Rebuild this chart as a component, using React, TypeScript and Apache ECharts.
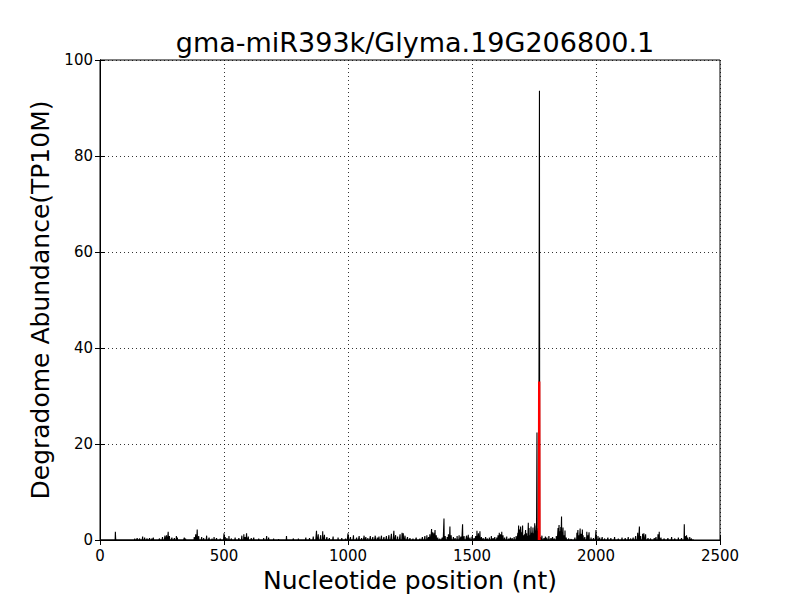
import React, { useEffect, useRef } from "react";
import * as echarts from "echarts";

const chartTitle = "gma-miR393k/Glyma.19G206800.1";
const xAxisTitle = "Nucleotide position (nt)";
const yAxisTitle = "Degradome Abundance(TP10M)";
const xTicks = [0, 500, 1000, 1500, 2000, 2500];
const yTicks = [0, 20, 40, 60, 80, 100];
const transcriptLength = 2395;

// nonzero positions of the degradome profile (black)
const readPositions = [
  62, 63, 140, 150, 160, 172, 180, 190, 200, 210, 215, 240, 252, 262, 268, 275, 280, 290, 300, 308, 312, 340, 345, 380, 386, 392, 398, 410, 418, 430, 440, 452, 460, 470, 485, 500,
  505, 512, 520, 530, 545, 560, 572, 580, 585, 591, 598, 610, 620, 640, 660, 672, 680, 700, 720, 752, 780, 800, 830, 845, 860, 873, 880, 890, 898, 905, 915, 925, 940, 960, 975, 990, 1000,
  1010, 1022, 1035, 1045, 1055, 1065, 1072, 1080, 1090, 1100, 1110, 1118, 1125, 1135, 1145, 1155, 1165, 1175, 1185, 1192, 1200, 1210, 1218, 1223, 1230, 1240, 1250, 1262, 1275, 1290, 1300,
  1310, 1318, 1325, 1330, 1337, 1342, 1347, 1351, 1356, 1362, 1370, 1380, 1387, 1392, 1400, 1405, 1411, 1416, 1425, 1432, 1440, 1448, 1455, 1462, 1468, 1478, 1485, 1492, 1500, 1508, 1515, 1520, 1526, 1532, 1538, 1545, 1555, 1562, 1570, 1578, 1585, 1592, 1600,
  1605, 1610, 1615, 1620, 1625, 1632, 1640, 1648, 1655, 1662, 1670, 1678, 1685, 1688, 1692, 1696, 1700, 1704, 1708, 1712, 1716, 1720, 1724, 1727, 1730, 1734, 1738, 1742, 1746, 1750, 1753, 1756, 1759, 1762, 1765, 1768, 1772,
  1776, 1782, 1790, 1796, 1802, 1810, 1818, 1825, 1832, 1840, 1847, 1851, 1855, 1858, 1861, 1864, 1867, 1870, 1875, 1880, 1890, 1900, 1915, 1923, 1927, 1932, 1936, 1940, 1945, 1948, 1955, 1963, 1968, 1972, 1980, 1990, 2000,
  2008, 2015, 2025, 2035, 2048, 2060, 2075, 2090, 2105, 2118, 2130, 2140, 2150, 2160, 2168, 2175, 2180, 2188, 2193, 2200, 2210, 2220, 2235, 2242, 2250, 2255, 2262, 2275, 2290, 2305, 2318, 2332, 2345, 2356, 2360, 2365, 2370, 2378, 2385,
];
const readAbundances = [
  1.7, 0.4, 0.3, 0.4, 0.3, 0.7, 0.5, 0.3, 0.4, 0.3, 0.5, 0.3, 0.6, 0.9, 1.0, 1.7, 0.8, 0.5, 0.4, 0.8, 0.5, 0.5, 0.3, 0.6, 1.2, 2.2, 0.8, 0.6, 0.4, 0.9, 0.5, 0.3, 0.6, 0.4, 0.3, 1.4,
  0.6, 0.4, 0.8, 0.3, 0.5, 0.4, 0.9, 1.2, 0.6, 1.4, 0.7, 0.4, 0.5, 0.3, 0.4, 0.8, 0.5, 0.3, 0.2, 0.8, 0.3, 0.3, 0.5, 0.4, 0.7, 1.9, 1.2, 1.0, 1.8, 1.1, 0.6, 0.4, 0.7, 0.5, 0.4, 0.3, 1.4,
  0.6, 1.0, 0.5, 0.8, 0.4, 0.9, 0.6, 0.4, 0.8, 0.6, 0.9, 0.5, 0.7, 0.9, 0.6, 0.8, 1.0, 1.3, 1.9, 1.0, 0.7, 1.2, 1.5, 1.4, 0.9, 0.6, 0.4, 0.3, 0.5, 0.3, 0.6,
  0.8, 1.0, 0.6, 1.2, 2.3, 1.6, 1.4, 2.1, 1.0, 0.5, 0.3, 0.5, 4.5, 0.8, 0.6, 1.2, 2.8, 1.0, 0.6, 0.4, 0.8, 1.0, 0.7, 3.3, 0.8, 0.9, 1.1, 0.5, 0.7, 0.4, 0.8, 1.9, 1.4, 1.8, 0.6, 0.4, 0.6, 0.3, 0.5, 0.8, 0.4, 0.6, 0.5,
  1.0, 1.5, 1.2, 1.7, 1.0, 0.5, 0.7, 0.3, 0.5, 0.4, 0.6, 0.8, 1.5, 3.0, 2.2, 2.8, 1.6, 3.0, 1.0, 1.2, 2.1, 1.4, 0.8, 3.6, 2.5, 1.0, 2.8, 1.5, 2.6, 1.4, 3.5, 2.0, 3.0, 22.4, 1.8, 2.5, 93.6,
  0.6, 0.9, 0.4, 0.7, 0.5, 0.8, 0.4, 0.6, 0.3, 0.8, 2.5, 3.1, 1.8, 2.7, 4.9, 1.5, 2.6, 1.0, 2.0, 0.5, 0.3, 0.2, 0.5, 1.5, 2.1, 1.0, 2.4, 1.3, 2.2, 1.0, 0.6, 1.7, 1.0, 1.6, 0.5, 0.4, 2.1,
  0.8, 0.5, 0.6, 0.3, 0.5, 0.4, 0.6, 0.3, 0.5, 0.4, 0.6, 0.3, 0.5, 0.8, 1.5, 2.8, 0.8, 1.3, 1.4, 1.2, 0.4, 0.3, 0.4, 0.6, 1.2, 1.7, 0.5, 0.3, 0.4, 0.6, 0.3, 0.5, 0.4, 3.3, 0.8, 1.0, 0.5, 0.6, 0.3,
];

// cleavage site (red)
const cleavagePosition = 1771;
const cleavageAbundance = 33;

const FONT = "DejaVu Sans";

export default function App() {
  const ref = useRef<HTMLDivElement>(null);

  useEffect(() => {
    if (!ref.current) return;
    const chart = echarts.init(ref.current, undefined, { renderer: "svg" });

    const lookup = new Map<number, number>();
    readPositions.forEach((p, i) => lookup.set(p, readAbundances[i]));
    const profile: [number, number][] = [];
    for (let p = 1; p <= transcriptLength; p++) {
      profile.push([p, lookup.has(p) ? (lookup.get(p) as number) : 0]);
    }
    const cleavage: [number, number][] = [
      [cleavagePosition - 1, 0],
      [cleavagePosition, cleavageAbundance],
      [cleavagePosition + 1, 0],
    ];

    const tickLabel = { fontFamily: FONT, fontSize: 15, color: "#000" };

    chart.setOption({
      animation: false,
      backgroundColor: "#fff",
      title: {
        text: chartTitle,
        left: 410,
        top: 24,
        textAlign: "center",
        textStyle: { fontFamily: FONT, fontSize: 27, fontWeight: "normal", color: "#000" },
      },
      grid: {
        left: 100,
        right: 80,
        top: 60,
        bottom: 60,
        show: true,
        borderColor: "#000",
        borderWidth: 1,
        backgroundColor: "#fff",
      },
      xAxis: [
        {
          type: "value",
          min: 0,
          max: 2500,
          interval: 500,
          name: xAxisTitle,
          nameLocation: "middle",
          nameGap: 28,
          nameTextStyle: { fontFamily: FONT, fontSize: 25, color: "#000" },
          axisLine: { show: true, lineStyle: { color: "#000", width: 1 } },
          axisTick: { show: true, inside: true, length: 5, lineStyle: { color: "#000" } },
          axisLabel: { ...tickLabel, margin: 8, formatter: (v: number) => (xTicks.includes(v) ? String(v) : "") },
          splitLine: { show: true, lineStyle: { color: "#000", type: [1, 3], width: 0.8 } },
        },
        {
          type: "value",
          position: "top",
          min: 0,
          max: 2500,
          interval: 500,
          axisLine: { show: true, lineStyle: { color: "#000" } },
          axisTick: { show: true, inside: true, length: 5, lineStyle: { color: "#000" } },
          axisLabel: { show: false },
          splitLine: { show: false },
        },
      ],
      yAxis: [
        {
          type: "value",
          min: 0,
          max: 100,
          interval: 20,
          name: yAxisTitle,
          nameLocation: "middle",
          nameGap: 45,
          nameTextStyle: { fontFamily: FONT, fontSize: 25, color: "#000" },
          axisLine: { show: true, lineStyle: { color: "#000", width: 1 } },
          axisTick: { show: true, inside: true, length: 5, lineStyle: { color: "#000" } },
          axisLabel: { ...tickLabel, margin: 7, formatter: (v: number) => (yTicks.includes(v) ? String(v) : "") },
          splitLine: { show: true, lineStyle: { color: "#000", type: [1, 3], width: 0.8 } },
        },
        {
          type: "value",
          position: "right",
          min: 0,
          max: 100,
          interval: 20,
          axisLine: { show: true, lineStyle: { color: "#000" } },
          axisTick: { show: true, inside: true, length: 5, lineStyle: { color: "#000" } },
          axisLabel: { show: false },
          splitLine: { show: false },
        },
      ],
      series: [
        {
          name: "profile",
          type: "line",
          xAxisIndex: 0,
          yAxisIndex: 0,
          data: profile,
          showSymbol: false,
          symbol: "none",
          lineStyle: { color: "#000", width: 1.1 },
          z: 3,
        },
        {
          name: "cleavage",
          type: "line",
          xAxisIndex: 0,
          yAxisIndex: 0,
          data: cleavage,
          showSymbol: false,
          symbol: "none",
          lineStyle: { color: "#ff0000", width: 2.4 },
          z: 4,
        },
      ],
    });

    return () => chart.dispose();
  }, []);

  return <div ref={ref} style={{ width: 800, height: 600, position: "absolute", left: 0, top: 0 }} />;
}
